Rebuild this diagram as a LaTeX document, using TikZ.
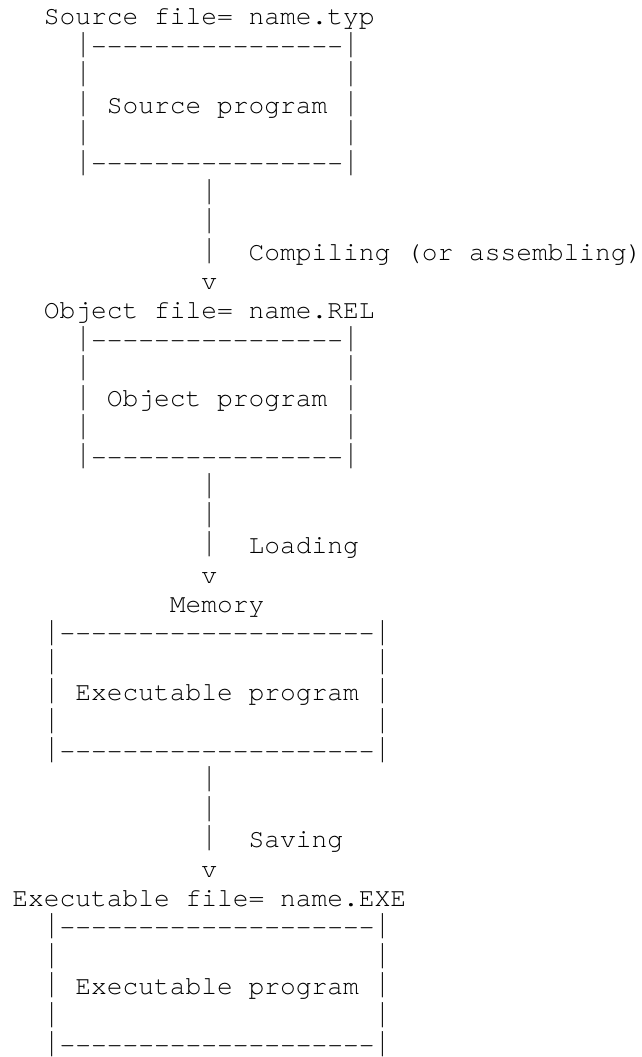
\documentclass[tikz,border=0pt]{standalone}
\usepackage{fontspec}
\usepackage{graphicx}
\setmonofont{TeX Gyre Cursor}[Ligatures=NoCommon]
\newcommand\asciifont{\ttfamily\fontsize{26.25}{29.38}\selectfont}
% a tall vertical bar, as in Courier New
\newcommand\vb{\makebox[0.6em]{\raisebox{-3.4pt}{\resizebox*{\width}{25.2pt}{\raisebox{\depth}{|}}}}}
\tikzset{
  asciiline/.style={anchor=base west, inner sep=0pt, outer sep=0pt, font=\asciifont, text=black},
}
\begin{document}
\begin{tikzpicture}
\useasboundingbox (0pt,0pt) rectangle (641pt,-1057pt);
\begin{scope}[shift={(12.3pt,-25.0pt)}, x=15.75pt, y=-29.38pt]
% ---- Source file
\node[asciiline] (srcfile) at (2,0) {Source file= name.typ};
\node[asciiline] (srctop)  at (4,1) {\vb----------------\vb};
\node[asciiline] (srcl1)   at (4,2) {\vb};
\node[asciiline] (srcr1)   at (21,2) {\vb};
\node[asciiline] (srctext) at (4,3) {\vb~Source program~\vb};
\node[asciiline] (srcl2)   at (4,4) {\vb};
\node[asciiline] (srcr2)   at (21,4) {\vb};
\node[asciiline] (srcbot)  at (4,5) {\vb----------------\vb};
% ---- arrow 1
\node[asciiline] (a1s1) at (12,6) {\vb};
\node[asciiline] (a1s2) at (12,7) {\vb};
\node[asciiline] (a1s3) at (12,8) {\vb~~Compiling (or assembling)};
\node[asciiline] (a1v)  at (12,9) {v};
% ---- Object file
\node[asciiline] (objfile) at (2,10) {Object file= name.REL};
\node[asciiline] (objtop)  at (4,11) {\vb----------------\vb};
\node[asciiline] (objl1)   at (4,12) {\vb};
\node[asciiline] (objr1)   at (21,12) {\vb};
\node[asciiline] (objtext) at (4,13) {\vb~Object program~\vb};
\node[asciiline] (objl2)   at (4,14) {\vb};
\node[asciiline] (objr2)   at (21,14) {\vb};
\node[asciiline] (objbot)  at (4,15) {\vb----------------\vb};
% ---- arrow 2
\node[asciiline] (a2s1) at (12,16) {\vb};
\node[asciiline] (a2s2) at (12,17) {\vb};
\node[asciiline] (a2s3) at (12,18) {\vb~~Loading};
\node[asciiline] (a2v)  at (12,19) {v};
% ---- Memory
\node[asciiline] (memlabel) at (10,20) {Memory};
\node[asciiline] (memtop)  at (2,21) {\vb--------------------\vb};
\node[asciiline] (meml1)   at (2,22) {\vb};
\node[asciiline] (memr1)   at (23,22) {\vb};
\node[asciiline] (memtext) at (2,23) {\vb~Executable program~\vb};
\node[asciiline] (meml2)   at (2,24) {\vb};
\node[asciiline] (memr2)   at (23,24) {\vb};
\node[asciiline] (membot)  at (2,25) {\vb--------------------\vb};
% ---- arrow 3
\node[asciiline] (a3s1) at (12,26) {\vb};
\node[asciiline] (a3s2) at (12,27) {\vb};
\node[asciiline] (a3s3) at (12,28) {\vb~~Saving};
\node[asciiline] (a3v)  at (12,29) {v};
% ---- Executable file
\node[asciiline] (exefile) at (0,30) {Executable file= name.EXE};
\node[asciiline] (exetop)  at (2,31) {\vb--------------------\vb};
\node[asciiline] (exel1)   at (2,32) {\vb};
\node[asciiline] (exer1)   at (23,32) {\vb};
\node[asciiline] (exetext) at (2,33) {\vb~Executable program~\vb};
\node[asciiline] (exel2)   at (2,34) {\vb};
\node[asciiline] (exer2)   at (23,34) {\vb};
\node[asciiline] (exebot)  at (2,35) {\vb--------------------\vb};
\end{scope}
\end{tikzpicture}
\end{document}
